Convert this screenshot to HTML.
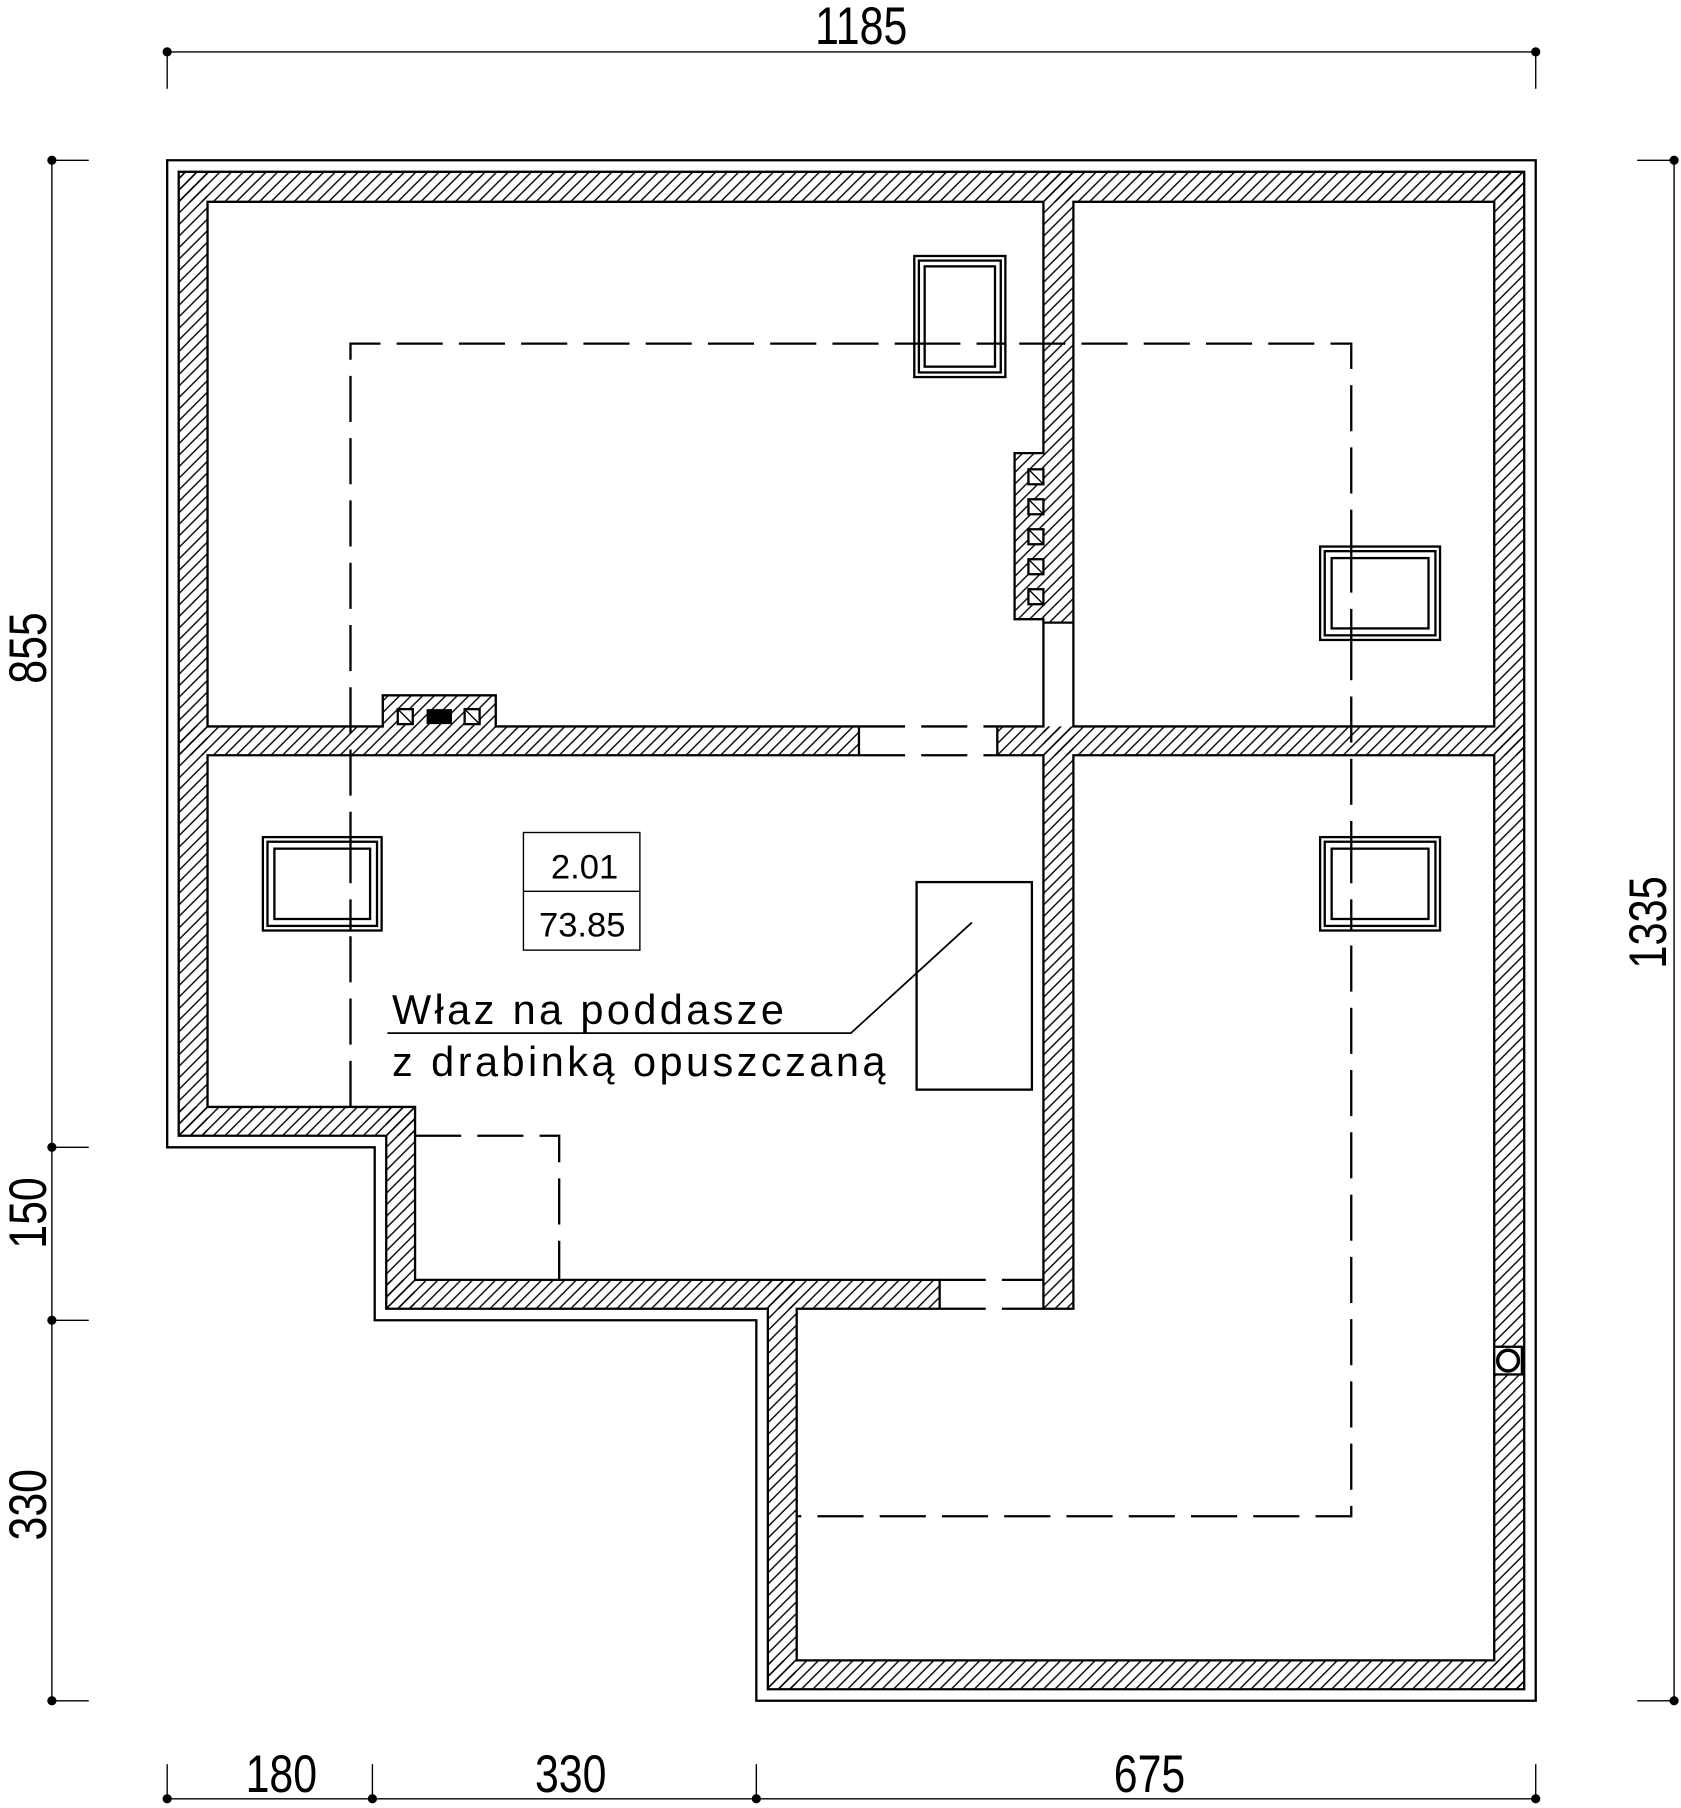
<!DOCTYPE html>
<html><head><meta charset="utf-8"><style>
html,body{margin:0;padding:0;background:#fff;}
svg{display:block;}
text{font-family:"Liberation Sans",sans-serif;fill:#000;}
</style></head><body>
<svg width="1681" height="1808" viewBox="0 0 1458 1568" preserveAspectRatio="none" xmlns="http://www.w3.org/2000/svg">
<defs>
<pattern id="h" patternUnits="userSpaceOnUse" width="10" height="10">
<path d="M-2,12 L12,-2 M-2,2 L2,-2 M8,12 L12,8" stroke="#000" stroke-width="1.2"/>
</pattern>
</defs>
<g fill="url(#h)" stroke="none">
<rect x="155" y="149" width="1167" height="26"/>
<rect x="155" y="149" width="25" height="836"/>
<rect x="155" y="960" width="205" height="25"/>
<rect x="335" y="960" width="25" height="175"/>
<rect x="335" y="1110" width="480" height="25"/>
<rect x="666" y="1110" width="25" height="355"/>
<rect x="1296" y="149" width="26" height="1316"/>
<rect x="666" y="1440" width="656" height="25"/>
<rect x="155" y="630" width="590" height="25"/>
<rect x="865" y="630" width="457" height="25"/>
<rect x="905" y="149" width="26" height="391"/>
<rect x="905" y="630" width="26" height="505"/>
<rect x="880" y="393" width="26" height="144"/>
<rect x="332" y="603" width="98" height="28"/>
</g>
<g fill="none" stroke="#000" stroke-width="2">
<path d="M145,139 H1332 V1475 H656 V1145 H325 V995 H145 Z"/>
<path d="M155,149 H1322 V1465 H666 V1135 H335 V985 H155 Z"/>
<path d="M905,175 H180 V630 H332 V603 H430 V630 H745 V655"/>
<path d="M905,175 V393 H880 V537 H905 V630 H865 V655"/>
<line x1="905" y1="540" x2="931" y2="540"/>
<path d="M931,630 V175 H1296 V630 Z"/>
<path d="M745,655 H180 V960 H360 V1110 H815 V1135"/>
<path d="M905,1110 V655 H865"/>
<path d="M815,1135 H691 V1440 H1296 V655 H931 V1135 H905 V1110"/>
<rect x="892" y="407" width="13" height="13" fill="#fff"/>
<rect x="892" y="433" width="13" height="13" fill="#fff"/>
<rect x="892" y="459" width="13" height="13" fill="#fff"/>
<rect x="892" y="485" width="13" height="13" fill="#fff"/>
<rect x="892" y="511" width="13" height="13" fill="#fff"/>
<rect x="345" y="615" width="13" height="13" fill="#fff"/>
<rect x="403" y="615" width="13" height="13" fill="#fff"/>
</g>
<rect x="370" y="615" width="22" height="13" fill="#000"/>
<g stroke="#000" stroke-width="1.2" fill="none">
<line x1="892" y1="407" x2="905" y2="420"/><line x1="892" y1="433" x2="905" y2="446"/>
<line x1="892" y1="459" x2="905" y2="472"/><line x1="892" y1="485" x2="905" y2="498"/>
<line x1="892" y1="511" x2="905" y2="524"/>
<line x1="345" y1="615" x2="358" y2="628"/><line x1="403" y1="615" x2="416" y2="628"/>
</g>
<g fill="none" stroke="#000" stroke-width="2" stroke-dasharray="40,14">
<path d="M304,960 V298 H1172 V1315 H691"/>
<path d="M360,985 H485 V1110"/>
<line x1="745" y1="630" x2="865" y2="630"/>
<line x1="745" y1="655" x2="865" y2="655"/>
<line x1="815" y1="1110" x2="905" y2="1110"/>
<line x1="815" y1="1135" x2="905" y2="1135"/>
</g>
<g fill="#fff" stroke="#000" stroke-width="2">
<rect x="793" y="222" width="79" height="105"/>
<rect x="797" y="226" width="71" height="97"/>
<rect x="802" y="231" width="61" height="87"/>
<rect x="1145" y="474" width="104" height="81"/>
<rect x="1149" y="478" width="96" height="73"/>
<rect x="1155" y="484" width="84" height="61"/>
<rect x="228" y="726" width="103" height="81"/>
<rect x="232" y="730" width="95" height="73"/>
<rect x="238" y="736" width="83" height="61"/>
<rect x="1145" y="726" width="104" height="81"/>
<rect x="1149" y="730" width="96" height="73"/>
<rect x="1155" y="736" width="84" height="61"/>
</g>
<g fill="none" stroke="#000" stroke-width="2" stroke-dasharray="40,14">
<line x1="793" y1="298" x2="872" y2="298"/>
<line x1="1172" y1="474" x2="1172" y2="555"/>
<line x1="1172" y1="726" x2="1172" y2="807"/>
<line x1="304" y1="726" x2="304" y2="807"/>
</g>
<rect x="1296" y="1168" width="24" height="24" fill="#fff" stroke="#000" stroke-width="2"/>
<circle cx="1308" cy="1180" r="9" fill="none" stroke="#000" stroke-width="3"/>
<g fill="none" stroke="#000" stroke-width="1.2">
<rect x="454" y="722" width="101" height="102"/>
<line x1="454" y1="773" x2="555" y2="773"/>
</g>
<text x="507" y="762" font-size="30" text-anchor="middle">2.01</text>
<text x="505" y="812" font-size="30" text-anchor="middle">73.85</text>
<rect x="795" y="765" width="100" height="180" fill="none" stroke="#000" stroke-width="2"/>
<polyline points="843,800 738,896 336,896" fill="none" stroke="#000" stroke-width="1.5"/>
<text x="340" y="888" font-size="36" textLength="340" lengthAdjust="spacing">Właz na poddasze</text>
<text x="340" y="933" font-size="36" textLength="428" lengthAdjust="spacing">z drabinką opuszczaną</text>
<g stroke="#000" stroke-width="1.2" fill="none">
<line x1="145" y1="45" x2="1332" y2="45"/>
<line x1="145" y1="45" x2="145" y2="77"/><line x1="1332" y1="45" x2="1332" y2="77"/>
<line x1="45" y1="139" x2="45" y2="1475"/>
<line x1="45" y1="139" x2="77" y2="139"/><line x1="45" y1="995" x2="77" y2="995"/>
<line x1="45" y1="1145" x2="77" y2="1145"/><line x1="45" y1="1475" x2="77" y2="1475"/>
<line x1="1452" y1="139" x2="1452" y2="1475"/>
<line x1="1420" y1="139" x2="1452" y2="139"/><line x1="1420" y1="1475" x2="1452" y2="1475"/>
<line x1="145" y1="1560" x2="1332" y2="1560"/>
<line x1="145" y1="1530" x2="145" y2="1560"/><line x1="323" y1="1530" x2="323" y2="1560"/>
<line x1="656" y1="1530" x2="656" y2="1560"/><line x1="1332" y1="1530" x2="1332" y2="1560"/>
</g>
<g fill="#000">
<circle cx="145" cy="45" r="4"/><circle cx="1332" cy="45" r="4"/>
<circle cx="45" cy="139" r="4"/><circle cx="45" cy="995" r="4"/><circle cx="45" cy="1145" r="4"/><circle cx="45" cy="1475" r="4"/>
<circle cx="1452" cy="139" r="4"/><circle cx="1452" cy="1475" r="4"/>
<circle cx="145" cy="1560" r="4"/><circle cx="323" cy="1560" r="4"/><circle cx="656" cy="1560" r="4"/><circle cx="1332" cy="1560" r="4"/>
</g>
<g font-size="46">
<text x="747" y="38" text-anchor="middle" textLength="80" lengthAdjust="spacingAndGlyphs">1185</text>
<text x="244" y="1554" text-anchor="middle" textLength="62" lengthAdjust="spacingAndGlyphs">180</text>
<text x="495" y="1554" text-anchor="middle" textLength="62" lengthAdjust="spacingAndGlyphs">330</text>
<text x="997" y="1554" text-anchor="middle" textLength="62" lengthAdjust="spacingAndGlyphs">675</text>
<text transform="translate(40,562) rotate(-90)" text-anchor="middle" textLength="62" lengthAdjust="spacingAndGlyphs">855</text>
<text transform="translate(40,1052) rotate(-90)" text-anchor="middle" textLength="62" lengthAdjust="spacingAndGlyphs">150</text>
<text transform="translate(40,1305) rotate(-90)" text-anchor="middle" textLength="62" lengthAdjust="spacingAndGlyphs">330</text>
<text transform="translate(1445,800) rotate(-90)" text-anchor="middle" textLength="80" lengthAdjust="spacingAndGlyphs">1335</text>
</g>
</svg>
</body></html>
